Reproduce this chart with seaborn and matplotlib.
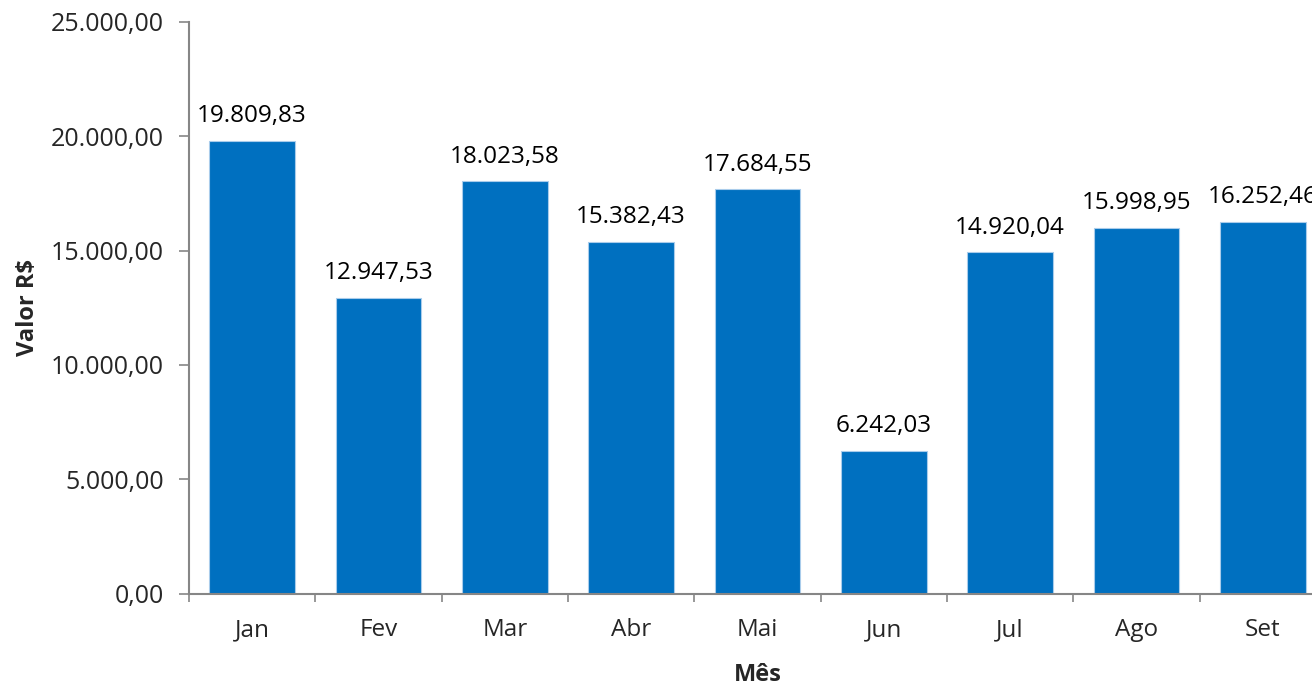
import numpy as np
import pandas as pd
import matplotlib
matplotlib.use("Agg")
import matplotlib.pyplot as plt
import seaborn as sns
from matplotlib.ticker import FixedLocator, FuncFormatter

########################################################
# Data
########################################################

meses = ["Jan", "Fev", "Mar", "Abr", "Mai", "Jun", "Jul", "Ago", "Set"]
valores = [19809.83, 12947.53, 18023.58, 15382.43, 17684.55,
           6242.03, 14920.04, 15998.95, 16252.46]
y_ticks = [0, 5000, 10000, 15000, 20000, 25000]


def fmt_br(v):
    # 12345.67 -> 12.345,67
    s = f"{v:,.2f}"
    return s.replace(",", "X").replace(".", ",").replace("X", ".")


########################################################
# Plot
########################################################

sns.set_theme(style="white")
plt.rcParams["font.family"] = ["Open Sans", "DejaVu Sans"]

df = pd.DataFrame({"Mês": meses, "Valor": valores})

fig = plt.figure(figsize=(13.12, 6.85), dpi=100)
# axes runs past the right edge, the original picture is cropped there
ax = fig.add_axes([189 / 1312, 1 - 593.5 / 685, 1137 / 1312, 571.5 / 685])

sns.barplot(data=df, x="Mês", y="Valor", color="#0070C0", saturation=1,
            width=0.68, edgecolor="#A9CCEB", linewidth=0.8, ax=ax)

ax.set_xlim(-0.5, len(meses) - 0.5)
ax.set_ylim(0, 25000)
ax.set_yticks(y_ticks)
ax.yaxis.set_major_formatter(FuncFormatter(lambda v, p: fmt_br(v)))

# tick marks between categories, labels centred
ax.xaxis.set_minor_locator(FixedLocator(np.arange(-0.5, len(meses), 1.0)))
ax.tick_params(axis="x", which="major", length=0, pad=18, labelsize=17.5)
ax.tick_params(axis="x", which="minor", length=6, width=1.2, color="#868686",
               direction="out", bottom=True)
ax.tick_params(axis="y", which="major", length=7, width=1.2, color="#868686",
               direction="out", left=True, pad=11, labelsize=18)

for side in ["top", "right"]:
    ax.spines[side].set_visible(False)
for side in ["left", "bottom"]:
    ax.spines[side].set_color("#868686")
    ax.spines[side].set_linewidth(1.5)

ax.bar_label(ax.containers[0], labels=[fmt_br(v) for v in valores],
             padding=9, fontsize=17.5, color="black")

ax.set_xlabel("Mês", fontsize=17, fontweight="bold", labelpad=15)
ax.set_ylabel("Valor R\\$", fontsize=17, fontweight="bold", labelpad=8)

fig.savefig("out.png", dpi=100)
